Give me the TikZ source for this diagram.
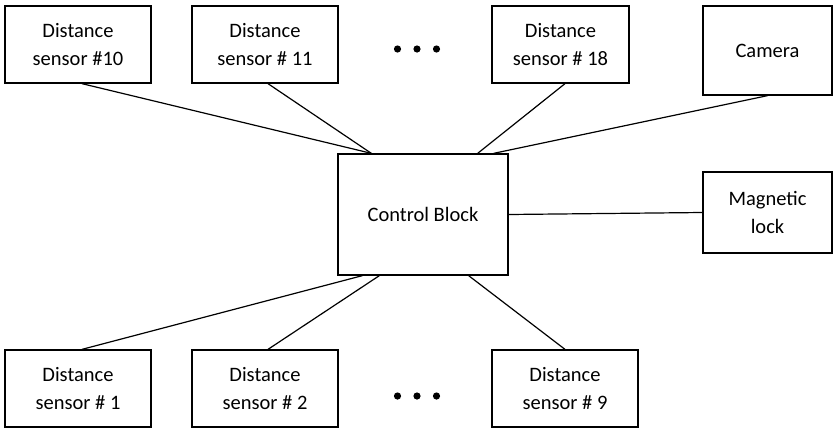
\documentclass[tikz,border=0pt]{standalone}
\usepackage{fontspec}
\setmainfont{Carlito}
\usepackage{tikz}

\begin{document}
\begin{tikzpicture}[x=1pt,y=1pt,yscale=-1,xscale=1,
  blockbox/.style={draw, line width=1.3pt, align=center, inner sep=0pt,
    font=\fontsize{20.5}{27.5}\selectfont},
  wire/.style={line width=1.2pt}]
\useasboundingbox (0,0) rectangle (833,429);

% Box Nodes
\node [blockbox, minimum width=146, minimum height=77] (s10) at (78,44.5) {Distance\\sensor \#10};
\node [blockbox, minimum width=146, minimum height=77] (s11) at (265,44.5) {Distance\\sensor \# 11};
\node [blockbox, minimum width=137, minimum height=77] (s18) at (560.5,44.5) {Distance\\sensor \# 18};
\node [blockbox, minimum width=129, minimum height=89] (cam) at (767.5,50.5) {Camera};
\node [blockbox, minimum width=170, minimum height=121] (ctrl) at (423,214.5) {Control Block};
\node [blockbox, minimum width=129, minimum height=81] (lock) at (767.5,212.5) {Magnetic\\lock};
\node [blockbox, minimum width=146, minimum height=77] (s1) at (78,388.5) {Distance\\sensor \# 1};
\node [blockbox, minimum width=146, minimum height=77] (s2) at (265,388.5) {Distance\\sensor \# 2};
\node [blockbox, minimum width=146, minimum height=77] (s9) at (565,388.5) {Distance\\sensor \# 9};

% Dots
\foreach \dx in {-19.5,0,19.5} {
  \fill ({417+\dx},49) circle (3.6);
  \fill ({417+\dx},396) circle (3.6);
}

%Straight Lines
\draw [wire] ([xshift=4]s10.south) -- ([xshift=34]ctrl.north west);
\draw [wire] ([xshift=3]s11.south) -- ([xshift=34]ctrl.north west);
\draw [wire] ([xshift=4.5]s18.south) -- ([xshift=-31]ctrl.north east);
\draw [wire] (cam.south) -- ([xshift=-15]ctrl.north east);
\draw [wire] (ctrl.east) -- (lock.west);
\draw [wire] ([xshift=4]s1.north) -- ([xshift=25]ctrl.south west);
\draw [wire] ([xshift=3]s2.north) -- ([xshift=42]ctrl.south west);
\draw [wire] (s9.north) -- ([xshift=-40]ctrl.south east);

\end{tikzpicture}
\end{document}
